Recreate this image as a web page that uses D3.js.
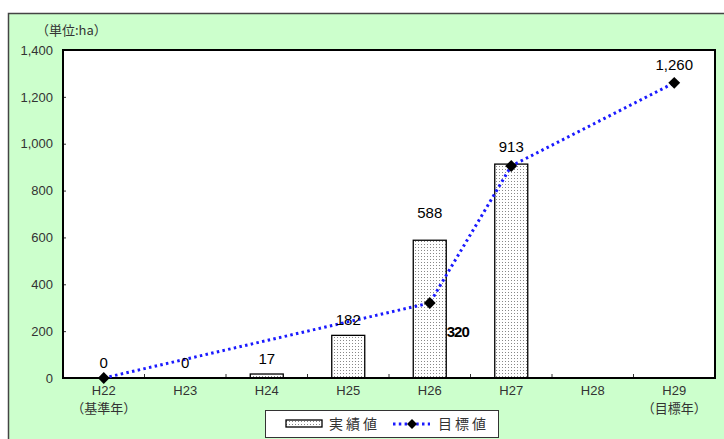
<!DOCTYPE html>
<html><head><meta charset="utf-8">
<script src="https://cdn.jsdelivr.net/npm/d3@7"></script>
<style>body{margin:0;background:#fff}svg{display:block}</style>
</head><body><div id="c"></div>
<script>
const categories = ["H22","H23","H24","H25","H26","H27","H28","H29"];
const subLabels = ["（基準年）","","","","","","","（目標年）"];
const actual = [0, 0, 17, 182, 588, 913, null, null];
const actualLabels = ["0","0","17","182","588","913","",""];
const target = [0, null, null, null, 320, 905, null, 1260];
const targetLabels = ["", "", "", "", "320", "", "", "1,260"];
const yTicks = [0,200,400,600,800,1000,1200,1400];
const seriesNames = ["実績値","目標値"];

const LAT="'Liberation Sans',Arial,sans-serif", CJK="'Noto Sans CJK JP',sans-serif";
const W=724,H=439;
const svg=d3.select("#c").append("svg").attr("width",W).attr("height",H);
const defs=svg.append("defs");
const pat=defs.append("pattern").attr("id","dots").attr("patternUnits","userSpaceOnUse").attr("width",3).attr("height",3);
pat.append("rect").attr("width",3).attr("height",3).attr("fill","#fff");
pat.append("rect").attr("x",1).attr("y",1).attr("width",1).attr("height",1).attr("fill","#888");

svg.append("rect").attr("x",8.5).attr("y",13.5).attr("width",720).attr("height",430).attr("fill","#ccffcc").attr("stroke","#444").attr("stroke-width",1.5);

const L=63,R=715,T=50,B=378;
const x=d3.scaleBand().domain(categories).range([L,R]);
const y=d3.scaleLinear().domain([0,1400]).range([B,T]);

svg.append("rect").attr("x",L).attr("y",T).attr("width",R-L).attr("height",B-T).attr("fill","#fff");

// y axis
const yAxis=d3.axisLeft(y).tickValues(yTicks).tickSize(-3).tickPadding(10).tickFormat(d3.format(","));
const ga=svg.append("g").attr("transform",`translate(${L},0)`).call(yAxis);
ga.select(".domain").remove();
ga.selectAll("text").style("font-size","13px").style("font-family",LAT).attr("fill","#333");
ga.selectAll("line").attr("stroke","#333");

// x axis
const xa=svg.append("g").attr("transform",`translate(0,${B})`).call(d3.axisBottom(x).tickSize(0).tickPadding(8));
xa.select(".domain").remove();
xa.selectAll("text").style("font-size","13px").style("font-family",LAT).attr("fill","#333");
xa.selectAll(".tick").append("text").attr("y",35).attr("fill","#333").attr("text-anchor","middle")
  .style("font-size","13px").style("font-family",CJK).text((d,i)=>subLabels[i]);
svg.append("g").selectAll("line").data(categories.slice(1)).join("line")
  .attr("x1",d=>x(d)).attr("x2",d=>x(d)).attr("y1",B).attr("y2",B-4).attr("stroke","#333");

// bars
const bw=33;
svg.append("g").selectAll("rect").data(categories.map((c,i)=>({c,v:actual[i]})).filter(d=>d.v!=null&&d.v>0)).join("rect")
  .attr("x",d=>x(d.c)+x.bandwidth()/2-bw/2).attr("y",d=>y(d.v)).attr("width",bw).attr("height",d=>B-y(d.v))
  .attr("fill","url(#dots)").attr("stroke","#000").attr("stroke-width",1.3);

// frame
svg.append("rect").attr("x",L).attr("y",T).attr("width",R-L).attr("height",B-T).attr("fill","none").attr("stroke","#000").attr("stroke-width",2);

// target line
const tpts=categories.map((c,i)=>({c,v:target[i]})).filter(d=>d.v!=null);
const line=d3.line().x(d=>x(d.c)+x.bandwidth()/2).y(d=>y(d.v));
svg.append("path").datum(tpts).attr("d",line).attr("fill","none").attr("stroke","#1a1aff").attr("stroke-width",3)
  .attr("stroke-dasharray","2.5,3.3");
svg.append("g").selectAll("path").data(tpts).join("path")
  .attr("d",d3.symbol(d3.symbolSquare,70))
  .attr("transform",d=>`translate(${x(d.c)+x.bandwidth()/2},${y(d.v)}) rotate(45)`).attr("fill","#000");

// actual labels
const labelOffsets=[-10,-10,-10,-10,-22,-12,0,0];
svg.append("g").selectAll("text").data(categories.map((c,i)=>({c,v:actual[i],t:actualLabels[i],i})).filter(d=>d.t!=="")).join("text")
  .attr("x",d=>x(d.c)+x.bandwidth()/2).attr("y",d=>y(d.v)+labelOffsets[d.i])
  .attr("text-anchor","middle").style("font-size","15px").style("font-family",LAT).attr("fill","#000").text(d=>d.t);
// target labels
svg.append("text").attr("x",x("H26")+x.bandwidth()/2+28).attr("y",y(320)+34).attr("text-anchor","middle")
  .style("font-size","15px").style("font-weight","bold").style("letter-spacing","-1px").style("font-family",LAT).text(targetLabels[4]);
svg.append("text").attr("x",x("H29")+x.bandwidth()/2).attr("y",y(1260)-13).attr("text-anchor","middle")
  .style("font-size","15px").style("font-family",LAT).text(targetLabels[7]);

// unit label
svg.append("text").attr("x",36).attr("y",35).attr("fill","#333").style("font-size","13px").style("font-family",CJK).text("（単位:ha）");

// legend
const lg=svg.append("g");
lg.append("rect").attr("x",265.5).attr("y",410.5).attr("width",233).attr("height",27).attr("fill","#fff").attr("stroke","#333");
lg.append("rect").attr("x",286).attr("y",420).attr("width",36).attr("height",7).attr("fill","url(#dots)").attr("stroke","#000").attr("stroke-width",1.3);
lg.append("text").attr("x",329).attr("y",429).attr("fill","#333").style("font-size","14px").style("font-family",CJK).style("letter-spacing","3px").text(seriesNames[0]);
lg.append("line").attr("x1",393).attr("x2",430).attr("y1",424).attr("y2",424).attr("stroke","#1a1aff").attr("stroke-width",3).attr("stroke-dasharray","2.5,3.3");
lg.append("path").attr("d",d3.symbol(d3.symbolSquare,50)).attr("transform","translate(412,424) rotate(45)").attr("fill","#000");
lg.append("text").attr("x",438).attr("y",429).attr("fill","#333").style("font-size","14px").style("font-family",CJK).style("letter-spacing","3px").text(seriesNames[1]);
</script></body></html>
